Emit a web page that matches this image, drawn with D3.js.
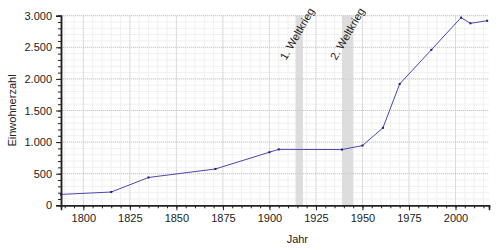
<!DOCTYPE html>
<html>
<head>
<meta charset="utf-8">
<script src="https://cdn.jsdelivr.net/npm/d3@7"></script>
<style>
  body { margin: 0; background: #fff; }
  text { font-family: "Liberation Sans", Arial, sans-serif; }
</style>
</head>
<body>
<div id="chart"></div>
<script>
// Einwohnerzahl data
var years  = [1788, 1815, 1835, 1871, 1900, 1905, 1939, 1950, 1961, 1970, 1987, 2003, 2008, 2017];
var values = [172, 210, 440, 575, 840, 885, 882, 945, 1225, 1920, 2460, 2970, 2880, 2920];
var wars = [
  {from: 1914, to: 1918, label: "1. Weltkrieg"},
  {from: 1939, to: 1945, label: "2. Weltkrieg"}
];
var xTicks = [1800, 1825, 1850, 1875, 1900, 1925, 1950, 1975, 2000];
var yTicks = [0, 500, 1000, 1500, 2000, 2500, 3000];

var totalWidth = 500, totalHeight = 250;
var margin = {top: 15.7, right: 11, bottom: 44.7, left: 61},
    width = totalWidth - margin.left - margin.right,
    height = totalHeight - margin.top - margin.bottom;

var de = d3.formatLocale({decimal: ",", thousands: ".", grouping: [3], currency: ["", " €"]});
var fmt = de.format(",.0f");

var x = d3.scaleLinear().domain([1788, 2018]).range([0, width]);
var y = d3.scaleLinear().domain([0, 3000]).range([height, 0]);

var svg = d3.select("#chart").append("svg")
    .attr("width", totalWidth)
    .attr("height", totalHeight);

var g = svg.append("g")
    .attr("transform", "translate(" + margin.left + "," + margin.top + ")");

// minor grid
var minorX = d3.range(1790, 2019, 5), minorY = d3.range(100, 3001, 100);
g.append("g").selectAll("line").data(minorX).enter().append("line")
    .attr("x1", d => x(d)).attr("x2", d => x(d))
    .attr("y1", 0).attr("y2", height)
    .attr("stroke", "#f0f0f0").attr("stroke-width", 1);
g.append("g").selectAll("line").data(minorY).enter().append("line")
    .attr("x1", 0).attr("x2", width)
    .attr("y1", d => y(d)).attr("y2", d => y(d))
    .attr("stroke", "#f0f0f0").attr("stroke-width", 1);

// war bands
g.append("g").selectAll("rect").data(wars).enter().append("rect")
    .attr("x", d => x(d.from))
    .attr("width", d => x(d.to) - x(d.from))
    .attr("y", 0).attr("height", height)
    .attr("fill", "#dddddd");

// major grid (dotted)
g.append("g").selectAll("line").data(xTicks).enter().append("line")
    .attr("x1", d => x(d)).attr("x2", d => x(d))
    .attr("y1", 0).attr("y2", height)
    .attr("stroke", "#c8c8c8").attr("stroke-dasharray", "1,1");
g.append("g").selectAll("line").data(yTicks.slice(1)).enter().append("line")
    .attr("x1", 0).attr("x2", width)
    .attr("y1", d => y(d)).attr("y2", d => y(d))
    .attr("stroke", "#c8c8c8").attr("stroke-dasharray", "1,1");

// war labels
g.append("g").selectAll("text").data(wars).enter().append("text")
    .attr("transform", d => "translate(" + (x(d.to) + 12) + ",-5) rotate(-60)")
    .attr("text-anchor", "end")
    .attr("font-size", 11)
    .attr("fill", "#222")
    .text(d => d.label);

// line
var line = d3.line().x((d, i) => x(years[i])).y(d => y(d));
g.append("path")
    .datum(values)
    .attr("fill", "none")
    .attr("stroke", "#4848b0")
    .attr("stroke-width", 1)
    .attr("d", line);

g.append("g").selectAll("rect").data(values).enter().append("rect")
    .attr("x", (d, i) => x(years[i]) - 1)
    .attr("y", d => y(d) - 1)
    .attr("width", 2).attr("height", 2)
    .attr("fill", "#1a1a80");

// axes
var xMinor = d3.axisBottom(x).tickValues(minorX).tickSize(3).tickFormat("");
var xMajor = d3.axisBottom(x).tickValues(xTicks).tickSize(5).tickPadding(4).tickFormat(d3.format("d"));
var yMinor = d3.axisLeft(y).tickValues(minorY).tickSize(3).tickFormat("");
var yMajor = d3.axisLeft(y).tickValues(yTicks).tickSize(5).tickPadding(4).tickFormat(fmt);

function styleAxis(sel) {
  sel.select(".domain").attr("stroke", "#222").attr("stroke-width", 1.5);
  sel.selectAll(".tick line").attr("stroke", "#222");
  sel.selectAll("text").attr("font-size", 11).attr("fill", "#222").attr("font-family", "Liberation Sans, Arial, sans-serif");
}

g.append("g").attr("transform", "translate(0," + height + ")").call(xMinor).call(styleAxis);
g.append("g").attr("transform", "translate(0," + height + ")").call(xMajor).call(styleAxis);
g.append("g").call(yMinor).call(styleAxis);
g.append("g").call(yMajor).call(styleAxis);

// axis titles
svg.append("text")
    .attr("x", margin.left + x(1915))
    .attr("y", 243)
    .attr("text-anchor", "middle")
    .attr("font-size", 11)
    .attr("fill", "#222")
    .text("Jahr");

svg.append("text")
    .attr("transform", "translate(16," + (margin.top + height / 2) + ") rotate(-90)")
    .attr("text-anchor", "middle")
    .attr("font-size", 11)
    .attr("fill", "#222")
    .text("Einwohnerzahl");
</script>
</body>
</html>
